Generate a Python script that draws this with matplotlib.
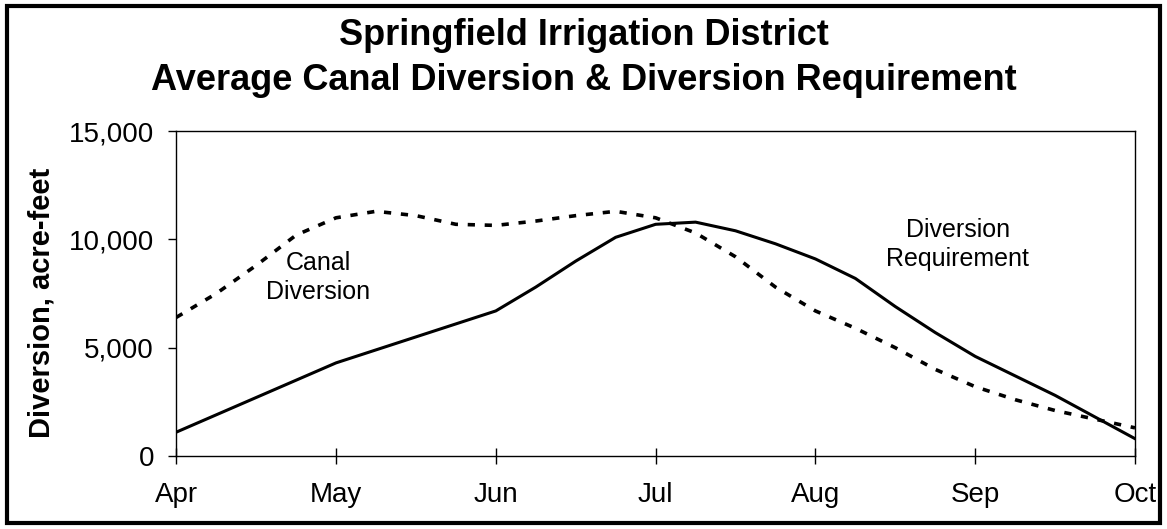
import matplotlib
matplotlib.use('Agg')
import matplotlib.pyplot as plt
from matplotlib.patches import Rectangle
from matplotlib.ticker import FuncFormatter

# month positions (0 = Apr 1, 6 = Oct 1), quarter-month steps
month_pos = [0, 0.25, 0.5, 0.75, 1, 1.25, 1.5, 1.75, 2, 2.25, 2.5, 2.75, 3,
             3.25, 3.5, 3.75, 4, 4.25, 4.5, 4.75, 5, 5.25, 5.5, 5.75, 6]
requirement = [1100, 1900, 2700, 3500, 4300, 4900, 5500, 6100, 6700, 7800, 9000, 10100, 10700,
               10800, 10400, 9800, 9100, 8200, 6900, 5700, 4600, 3700, 2800, 1800, 800]
canal = [6400, 7500, 8800, 10200, 11000, 11300, 11100, 10700, 10650, 10850, 11100, 11300, 11000,
         10300, 9200, 7800, 6700, 5900, 5000, 4000, 3200, 2600, 2100, 1700, 1300]
month_labels = ['Apr', 'May', 'Jun', 'Jul', 'Aug', 'Sep', 'Oct']
y_ticks = [0, 5000, 10000, 15000]

plt.rcParams['font.family'] = ['Liberation Sans', 'DejaVu Sans']

fig = plt.figure(figsize=(11.67, 5.29), dpi=100)
ax = fig.add_axes([0.151, 0.138, 0.8216, 0.614])

ax.plot(month_pos, requirement, color='black', lw=2.2)
ax.plot(month_pos, canal, color='black', lw=2.6, linestyle=(0, (2.0, 2.7)))

ax.set_xlim(0, 6)
ax.set_ylim(0, 15000)
ax.set_xticks(range(len(month_labels)))
ax.set_xticklabels(month_labels)
ax.set_yticks(y_ticks)
ax.yaxis.set_major_formatter(FuncFormatter(lambda v, p: '{:,.0f}'.format(v)))
ax.tick_params(axis='y', direction='out', length=6, width=1, labelsize=20, pad=10)
ax.tick_params(axis='x', direction='inout', length=11.5, width=1, labelsize=20, pad=13)
for s in ax.spines.values():
    s.set_linewidth(1)

ax.set_ylabel('Diversion, acre-feet', fontsize=21, fontweight='bold', labelpad=12)
ax.yaxis.set_label_coords(-0.126, 0.47)

# line labels
ax.text(0.89, 8260, 'Canal\nDiversion', ha='center', va='center', fontsize=18, linespacing=1.25)
ax.text(4.89, 9780, 'Diversion\nRequirement', ha='center', va='center', fontsize=18, linespacing=1.25)

fig.text(0.5, 0.915, 'Springfield Irrigation District', ha='center', va='baseline',
         fontsize=26, fontweight='bold')
fig.text(0.5, 0.830, 'Average Canal Diversion & Diversion Requirement', ha='center', va='baseline',
         fontsize=26, fontweight='bold')

# border round the whole figure
fig.patches.append(Rectangle((0.006, 0.011), 0.988, 0.978, transform=fig.transFigure,
                             fill=False, edgecolor='black', lw=3))

fig.savefig('out.png', dpi=100)
